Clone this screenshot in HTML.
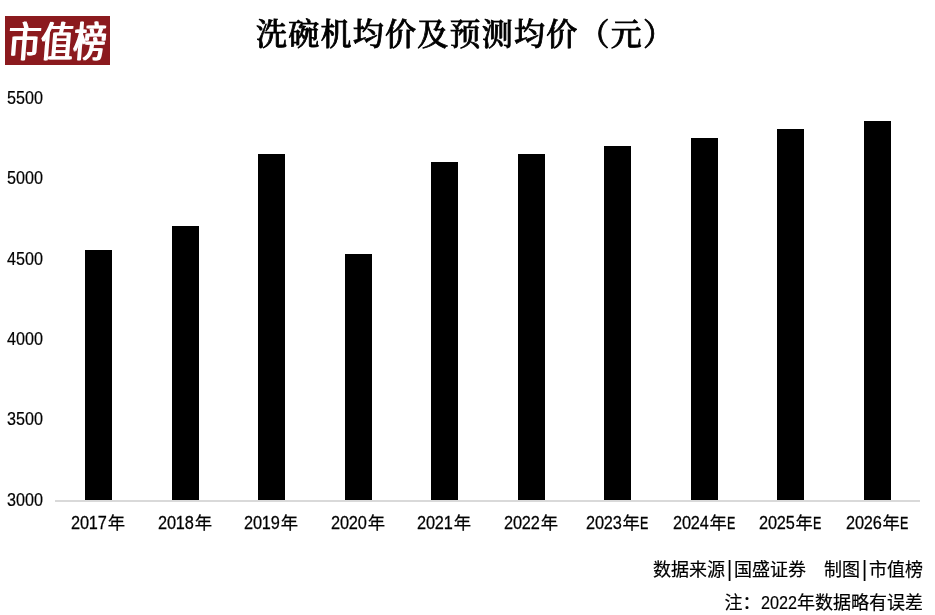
<!DOCTYPE html>
<html lang="zh-CN">
<head>
<meta charset="utf-8">
<title>洗碗机均价及预测均价（元）</title>
<style>
html,body{margin:0;padding:0;background:#fff;}
body{width:935px;height:615px;position:relative;overflow:hidden;font-family:"Liberation Sans","Noto Sans CJK SC",sans-serif;color:#000;}
.logo{position:absolute;left:5px;top:16px;width:105px;height:49px;background:#8b1a1e;color:#fff;overflow:hidden;}
.logo span{position:absolute;left:2.5px;top:1.5px;text-shadow:1.2px 0 0 #fff,-1.2px 0 0 #fff;white-space:nowrap;font-family:"Liberation Sans","Noto Sans CJK SC",sans-serif;font-weight:400;font-size:42px;line-height:49px;transform-origin:0 50%;transform:scaleX(0.78) skewX(-6deg);letter-spacing:0;}
.title{position:absolute;left:256px;top:10.5px;letter-spacing:1.25px;font-family:"Liberation Serif","Noto Serif CJK SC",serif;font-weight:500;-webkit-text-stroke:0.8px #000;font-size:31px;line-height:48px;white-space:nowrap;}
.yl{position:absolute;left:6.8px;-webkit-text-stroke:0.2px #000;margin-top:0.3px;transform:scale(0.935,1.035);transform-origin:0 50%;font-size:17.3px;line-height:20px;height:20px;font-family:"Liberation Sans",sans-serif;}
.bar{position:absolute;background:#000;width:27px;}
.axis{position:absolute;left:55px;top:500px;width:865px;height:2px;background:#d9d9d9;}
.xl{position:absolute;top:511px;letter-spacing:-0.2px;-webkit-text-stroke:0.25px #000;width:100px;text-align:center;font-size:17.3px;line-height:24px;white-space:nowrap;font-family:"Liberation Sans","Noto Sans CJK SC",sans-serif;}
.n{display:inline-block;width:36.8px;text-align:left;transform:scale(0.945,1.04);transform-origin:0 74%;}
.e{display:inline-block;width:8.7px;text-align:left;-webkit-text-stroke:0.4px #000;transform:scaleX(0.72);transform-origin:0 50%;}
.bar1{display:inline-block;width:9px;text-align:center;transform:translateY(-1px) scaleY(1.18);}
.d{display:inline-block;width:36.5px;transform:scaleX(0.9);transform-origin:0 50%;}
.note{position:absolute;right:12px;-webkit-text-stroke:0.2px #000;white-space:nowrap;font-size:18px;line-height:24px;font-family:"Liberation Sans","Noto Sans CJK SC",sans-serif;}
</style>
</head>
<body>
<div class="logo"><span>市值榜</span></div>
<div class="title">洗碗机均价及预测均价（元）</div>

<div class="yl" style="top:87.5px">5500</div>
<div class="yl" style="top:167.9px">5000</div>
<div class="yl" style="top:248.3px">4500</div>
<div class="yl" style="top:328.7px">4000</div>
<div class="yl" style="top:409.1px">3500</div>
<div class="yl" style="top:489.5px">3000</div>

<div class="bar" style="left:85px;top:250px;height:250px"></div>
<div class="bar" style="left:172px;top:226px;height:274px"></div>
<div class="bar" style="left:258px;top:154px;height:346px"></div>
<div class="bar" style="left:345px;top:254px;height:246px"></div>
<div class="bar" style="left:431px;top:162px;height:338px"></div>
<div class="bar" style="left:518px;top:154px;height:346px"></div>
<div class="bar" style="left:604px;top:146px;height:354px"></div>
<div class="bar" style="left:691px;top:138px;height:362px"></div>
<div class="bar" style="left:777px;top:129px;height:371px"></div>
<div class="bar" style="left:864px;top:121px;height:379px"></div>
<div class="axis"></div>

<div class="xl" style="left:48px"><span class="n">2017</span>年</div>
<div class="xl" style="left:135px"><span class="n">2018</span>年</div>
<div class="xl" style="left:221px"><span class="n">2019</span>年</div>
<div class="xl" style="left:308px"><span class="n">2020</span>年</div>
<div class="xl" style="left:394px"><span class="n">2021</span>年</div>
<div class="xl" style="left:481px"><span class="n">2022</span>年</div>
<div class="xl" style="left:567px"><span class="n">2023</span>年<span class="e">E</span></div>
<div class="xl" style="left:654px"><span class="n">2024</span>年<span class="e">E</span></div>
<div class="xl" style="left:740px"><span class="n">2025</span>年<span class="e">E</span></div>
<div class="xl" style="left:827px"><span class="n">2026</span>年<span class="e">E</span></div>

<div class="note" style="top:558.3px">数据来源<span class="bar1">|</span>国盛证券　制图<span class="bar1">|</span>市值榜</div>
<div class="note" style="top:591px">注：<span class="d">2022</span>年数据略有误差</div>
</body>
</html>
